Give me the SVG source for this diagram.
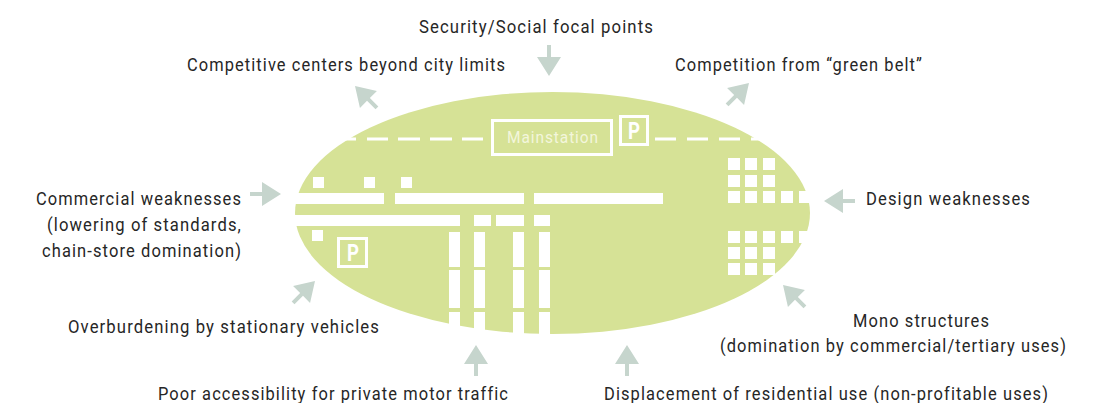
<svg xmlns="http://www.w3.org/2000/svg" width="1093" height="403" viewBox="0 0 1093 403">
<style>
text{font-family:"Roboto","Liberation Sans",sans-serif}
.l{font-size:18px;fill:#262626;letter-spacing:1.2px}
.w{fill:#fff}
.box{fill:none;stroke:#fff;stroke-width:3}
.a{fill:#c6d5cd}
.p{font-size:23px;font-weight:700;fill:#fff}
</style>
<defs><path id="arr" d="M-31-2H-19V-12L0 0-19 12V2H-31Z"/></defs>
<rect width="1093" height="403" fill="#fff"/>
<g id="district">
<ellipse cx="552.5" cy="213" rx="257.5" ry="121" fill="#d6e296"/>
<g class="w">
<rect x="343" y="137.500" width="13" height="3"/><rect x="367" y="137.500" width="21" height="3"/><rect x="398" y="137.500" width="22" height="3"/><rect x="430" y="137.500" width="22" height="3"/><rect x="462" y="137.500" width="21" height="3"/>
<rect x="655" y="137.500" width="21" height="3"/><rect x="687" y="137.500" width="21" height="3"/><rect x="719" y="137.500" width="21" height="3"/><rect x="751" y="137.500" width="12" height="3"/>
<rect x="313" y="177" width="11" height="11"/><rect x="364" y="177" width="11" height="11"/><rect x="401" y="177" width="11" height="11"/><rect x="312" y="230" width="11" height="11"/>
<rect x="290" y="193" width="94" height="11"/><rect x="395" y="193" width="129" height="11"/><rect x="534" y="193" width="129" height="11"/>
<rect x="290" y="215" width="170" height="11"/><rect x="474" y="215" width="17" height="11"/><rect x="496" y="215" width="28" height="11"/><rect x="534" y="215" width="16" height="11"/>
<rect x="449" y="232" width="11" height="35"/><rect x="474" y="232" width="11" height="35"/><rect x="513" y="232" width="11" height="35"/><rect x="539" y="232" width="11" height="35"/>
<rect x="449" y="270" width="11" height="38"/><rect x="474" y="270" width="11" height="38"/><rect x="513" y="270" width="11" height="38"/><rect x="539" y="270" width="11" height="38"/>
<rect x="449" y="312" width="11" height="24"/><rect x="474" y="312" width="11" height="24"/><rect x="513" y="312" width="11" height="24"/><rect x="539" y="312" width="11" height="24"/>
<rect x="728" y="158" width="12" height="12"/><rect x="745" y="158" width="12" height="12"/><rect x="763" y="158" width="12" height="12"/>
<rect x="728" y="175" width="12" height="12"/><rect x="745" y="175" width="12" height="12"/><rect x="763" y="175" width="12" height="12"/>
<rect x="728" y="191" width="12" height="12"/><rect x="745" y="191" width="12" height="12"/><rect x="763" y="191" width="12" height="12"/><rect x="781" y="191" width="12" height="12"/><rect x="799" y="191" width="13" height="12"/>
<rect x="728" y="231" width="12" height="12"/><rect x="745" y="231" width="12" height="12"/><rect x="763" y="231" width="12" height="12"/><rect x="781" y="231" width="12" height="12"/><rect x="799" y="231" width="13" height="12"/>
<rect x="728" y="247" width="12" height="12"/><rect x="745" y="247" width="12" height="12"/><rect x="763" y="247" width="12" height="12"/>
<rect x="728" y="263" width="12" height="12"/><rect x="745" y="263" width="12" height="12"/><rect x="763" y="263" width="12" height="12"/>
</g>
</g>
<g id="mainstation"><rect class="box" x="492.500" y="120.500" width="119" height="34"/><text x="507" y="143" font-size="17" fill="#f3f6dc" letter-spacing="1" textLength="92" lengthAdjust="spacingAndGlyphs">Mainstation</text></g>
<g id="parking-north"><rect class="box" x="620.500" y="116.500" width="27" height="28"/><text class="p" x="628" y="139" textLength="12" lengthAdjust="spacingAndGlyphs">P</text></g>
<g id="parking-south"><rect class="box" x="338.500" y="238.500" width="28" height="28"/><text class="p" x="347" y="261" textLength="12" lengthAdjust="spacingAndGlyphs">P</text></g>
<g id="connectors" class="a">
<use href="#arr" transform="translate(549 76) rotate(90)"/>
<use href="#arr" transform="translate(355 86) rotate(225)"/>
<use href="#arr" transform="translate(749 83) rotate(-45)"/>
<use href="#arr" transform="translate(281 194)"/>
<use href="#arr" transform="translate(824 201) rotate(180)"/>
<use href="#arr" transform="translate(315 281) rotate(-45)"/>
<use href="#arr" transform="translate(783 285) rotate(225)"/>
<use href="#arr" transform="translate(476 345) rotate(-90)"/>
<use href="#arr" transform="translate(627 345) rotate(-90)"/>
</g>
<g id="n-security"><text class="l" x="419" y="32.500" textLength="235" lengthAdjust="spacingAndGlyphs">Security/Social focal points</text></g>
<g id="n-competitive"><text class="l" x="187" y="70.500" textLength="319" lengthAdjust="spacingAndGlyphs">Competitive centers beyond city limits</text></g>
<g id="n-green"><text class="l" x="675" y="70.500" textLength="248" lengthAdjust="spacingAndGlyphs">Competition from “green belt”</text></g>
<g id="n-commercial"><text class="l" x="36" y="205" textLength="206" lengthAdjust="spacingAndGlyphs">Commercial weaknesses</text><text class="l" x="47" y="231" textLength="195" lengthAdjust="spacingAndGlyphs">(lowering of standards,</text><text class="l" x="42" y="257" textLength="200" lengthAdjust="spacingAndGlyphs">chain-store domination)</text></g>
<g id="n-design"><text class="l" x="866" y="204.500" textLength="165" lengthAdjust="spacingAndGlyphs">Design weaknesses</text></g>
<g id="n-overburdening"><text class="l" x="68" y="332.500" textLength="312" lengthAdjust="spacingAndGlyphs">Overburdening by stationary vehicles</text></g>
<g id="n-mono"><text class="l" x="853" y="326.500" textLength="137" lengthAdjust="spacingAndGlyphs">Mono structures</text><text class="l" x="720" y="352" textLength="347" lengthAdjust="spacingAndGlyphs">(domination by commercial/tertiary uses)</text></g>
<g id="n-access"><text class="l" x="158" y="400" textLength="351" lengthAdjust="spacingAndGlyphs">Poor accessibility for private motor traffic</text></g>
<g id="n-displacement"><text class="l" x="604" y="400" textLength="445" lengthAdjust="spacingAndGlyphs">Displacement of residential use (non-profitable uses)</text></g>
</svg>
